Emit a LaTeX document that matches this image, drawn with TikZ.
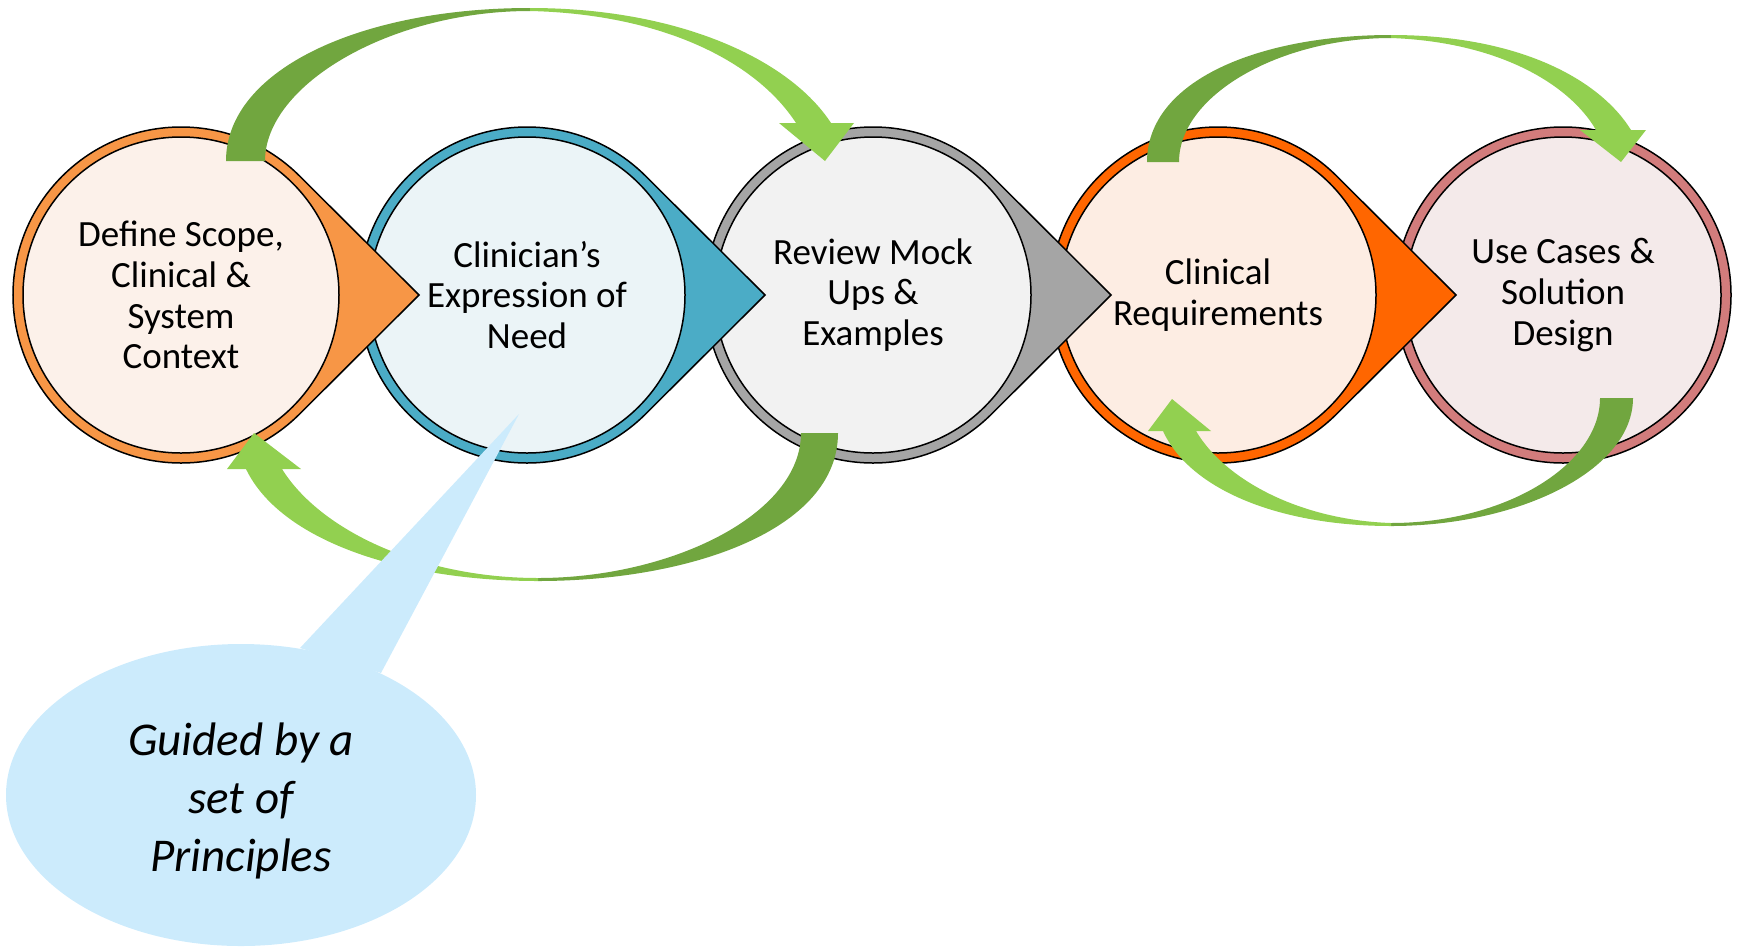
\documentclass[tikz,border=0pt]{standalone}
\usepackage{fontspec}
\setmainfont{Carlito}
\usetikzlibrary{positioning,calc}

\definecolor{ringA}{HTML}{F79646}
\definecolor{ringB}{HTML}{4BACC6}
\definecolor{ringC}{HTML}{A5A5A5}
\definecolor{ringD}{HTML}{FF6600}
\definecolor{ringE}{HTML}{D27C7C}
\definecolor{fillA}{HTML}{FCF1EA}
\definecolor{fillB}{HTML}{EBF4F7}
\definecolor{fillC}{HTML}{F2F2F2}
\definecolor{fillD}{HTML}{FDEDE3}
\definecolor{fillE}{HTML}{F4EAEA}
\definecolor{greenD}{HTML}{71A63F}
\definecolor{greenL}{HTML}{92D050}
\definecolor{bubble}{HTML}{CCEBFC}

\tikzset{
    ring/.style={draw=black,line width=1.5pt,fill=#1},
    disc/.style={circle,draw=black,line width=1.5pt,fill=#1,minimum size=316pt,
        inner sep=0pt,align=center,font=\fontsize{37}{40.7}\selectfont},
    darkgreen/.style={fill=greenD},
    lightgreen/.style={fill=greenL},
    callout/.style={fill=bubble}
}

\begin{document}
\begin{tikzpicture}[x=1pt,y=-1pt]
	\useasboundingbox (0,0) rectangle (1739,946);
	\coordinate (p1) at (181,295);
	\coordinate (p2) at (527,295);
	\coordinate (p3) at (873,295);
	\coordinate (p4) at (1218,295);
	\coordinate (p5) at (1563,295);
	% steps, drawn right to left
	\filldraw[ring=ringE] (p5) circle[radius=168pt];
	\node[disc=fillE] (c5) at (p5) {Use Cases \&\\Solution\\Design};
	\filldraw[ring=ringD] ($(p4)+(45:168pt)$) arc[start angle=45,end angle=315,radius=168pt] -- ($(p4)+(238,0)$) -- cycle;
	\node[disc=fillD] (c4) at (p4) {Clinical\\Requirements};
	\filldraw[ring=ringC] ($(p3)+(45:168pt)$) arc[start angle=45,end angle=315,radius=168pt] -- ($(p3)+(238,0)$) -- cycle;
	\node[disc=fillC] (c3) at (p3) {Review Mock\\Ups \&\\Examples};
	\filldraw[ring=ringB] ($(p2)+(45:168pt)$) arc[start angle=45,end angle=315,radius=168pt] -- ($(p2)+(238,0)$) -- cycle;
	\node[disc=fillB] (c2) at (p2) {Clinician’s\\Expression of\\Need};
	\filldraw[ring=ringA] ($(p1)+(45:168pt)$) arc[start angle=45,end angle=315,radius=168pt] -- ($(p1)+(238,0)$) -- cycle;
	\node[disc=fillA] (c1) at (p1) {Define Scope,\\Clinical \&\\System\\Context};
	% loop arrows
	\fill[darkgreen] (226,161) .. controls (226,70) and (360,8) .. (530,8) -- (530,11) .. controls (390,11) and (265,85) .. (265,161) -- cycle;
	\fill[lightgreen] (530,8) .. controls (680,8) and (790,60) .. (831,123) -- (854,123) -- (825,161) -- (779,123) -- (796,123) .. controls (755,60) and (660,14) .. (530,11) -- cycle;
	\fill[darkgreen] (838,433) .. controls (838,530) and (690,581) .. (538,581) -- (538,578) .. controls (670,578) and (801,515) .. (801,433) -- cycle;
	\fill[lightgreen] (538,581) .. controls (400,581) and (280,540) .. (246,469) -- (227,469) -- (254,433) -- (301,469) -- (282,469) .. controls (320,530) and (420,578) .. (538,578) -- cycle;
	\fill[darkgreen] (1147,162) .. controls (1147,80) and (1260,35) .. (1391,35) -- (1391,38) .. controls (1280,38) and (1179,95) .. (1179,162) -- cycle;
	\fill[lightgreen] (1391,35) .. controls (1520,35) and (1600,80) .. (1631,130) -- (1646,130) -- (1621,162) -- (1580,130) -- (1596,130) .. controls (1570,85) and (1500,42) .. (1391,38) -- cycle;
	\fill[darkgreen] (1633,398) .. controls (1633,470) and (1520,526) .. (1391,526) -- (1391,523) .. controls (1505,523) and (1600,465) .. (1600,398) -- cycle;
	\fill[lightgreen] (1391,526) .. controls (1280,526) and (1190,490) .. (1163,431) -- (1148,431) -- (1172,399) -- (1211,431) -- (1196,431) .. controls (1225,480) and (1300,520) .. (1391,523) -- cycle;
	% callout
	\coordinate (g) at (241,795);
	\fill[callout] (g) ellipse[x radius=235pt,y radius=151pt];
	\fill[callout] (300,648) -- (519,414) -- (381,673) -- cycle;
	\node[font=\fontsize{47}{58}\selectfont\itshape,align=center] (guide) at (241,801) {Guided by a\\set of\\Principles};
\end{tikzpicture}
\end{document}
